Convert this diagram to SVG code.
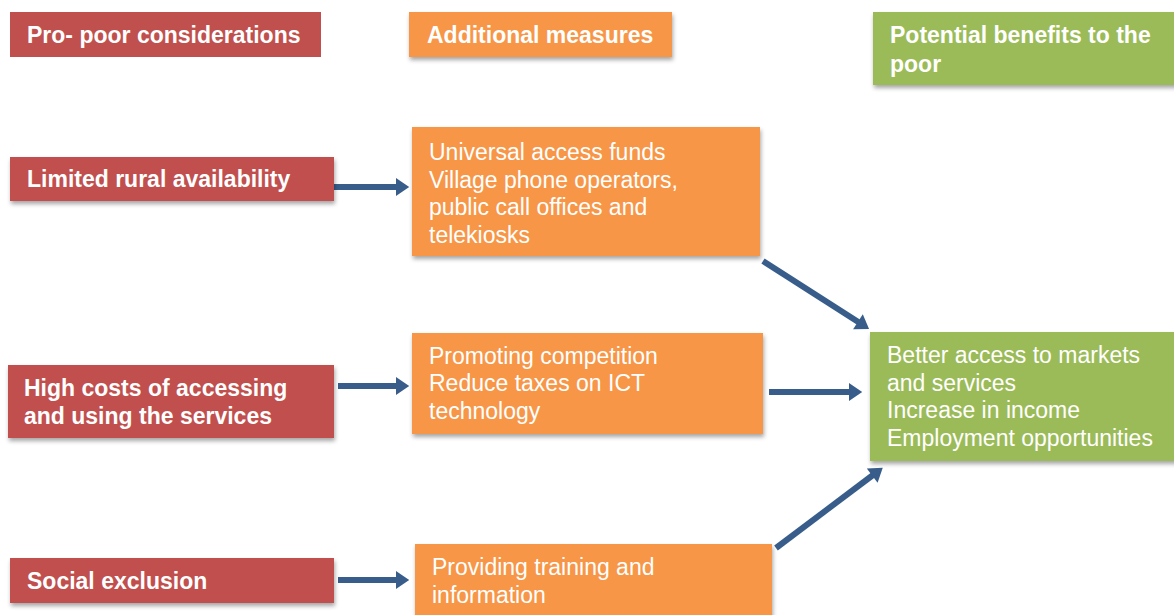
<svg xmlns="http://www.w3.org/2000/svg" width="1174" height="615" viewBox="0 0 1174 615">
<style>
.red{fill:#C0504D}
.org{fill:#F79646}
.grn{fill:#9BBB59}
.b{font-family:"Liberation Sans",Arial,sans-serif;font-weight:bold;font-size:23px;fill:#fff}
.t{font-family:"Liberation Sans",Arial,sans-serif;font-size:23px;fill:#fff}
.c{stroke:#385D8A;stroke-width:6;fill:none;marker-end:url(#ah)}
</style>
<defs>
<filter id="sh" x="-10%" y="-10%" width="130%" height="140%">
<feDropShadow dx="1" dy="3" stdDeviation="2" flood-color="#000" flood-opacity="0.35"/>
</filter>
<marker id="ah" markerWidth="3" markerHeight="3" refX="1" refY="1.5" orient="auto" markerUnits="strokeWidth" viewBox="0 0 2.2 3">
<path d="M0,0 L2.2,1.5 L0,3 Z" fill="#385D8A"/>
</marker>
</defs>
<rect width="1174" height="615" fill="#fff"/>
<g id="connectors">
<line class="c" x1="334" y1="187" x2="402" y2="187"/>
<line class="c" x1="338" y1="386" x2="402" y2="386"/>
<line class="c" x1="338" y1="580" x2="402" y2="580"/>
<line class="c" x1="769" y1="392" x2="855" y2="392"/>
<line class="c" x1="763" y1="261" x2="863" y2="325"/>
<line class="c" x1="776" y1="548" x2="877" y2="472"/>
</g>
<g id="h1"><rect class="red" x="10" y="12" width="311" height="45"/><text class="b" x="27" y="43">Pro- poor considerations</text></g>
<g id="h2"><rect class="org" x="409" y="12" width="263" height="45" filter="url(#sh)"/><text class="b" x="427" y="43">Additional measures</text></g>
<g id="h3"><rect class="grn" x="873" y="12" width="310" height="73" filter="url(#sh)"/><text class="b" x="890" y="43">Potential benefits to the</text><text class="b" x="890" y="72">poor</text></g>
<g id="l1"><rect class="red" x="10" y="157" width="324" height="44" filter="url(#sh)"/><text class="b" x="27" y="187">Limited rural availability</text></g>
<g id="l2"><rect class="red" x="8" y="365" width="326" height="73" filter="url(#sh)"/><text class="b" x="24" y="396">High costs of accessing</text><text class="b" x="24" y="424">and using the services</text></g>
<g id="l3"><rect class="red" x="10" y="558" width="324" height="45" filter="url(#sh)"/><text class="b" x="27" y="589">Social exclusion</text></g>
<g id="m1"><rect class="org" x="412" y="127" width="348" height="129" filter="url(#sh)"/>
<text class="t" x="429" y="160">Universal access funds</text><text class="t" x="429" y="188">Village phone operators,</text><text class="t" x="429" y="215">public call offices and</text><text class="t" x="429" y="243">telekiosks</text></g>
<g id="m2"><rect class="org" x="412" y="333" width="351" height="101" filter="url(#sh)"/>
<text class="t" x="429" y="364">Promoting competition</text><text class="t" x="429" y="391">Reduce taxes on ICT</text><text class="t" x="429" y="419">technology</text></g>
<g id="m3"><rect class="org" x="415" y="544" width="357" height="80" filter="url(#sh)"/>
<text class="t" x="432" y="575">Providing training and</text><text class="t" x="432" y="603">information</text></g>
<g id="r1"><rect class="grn" x="870" y="332" width="310" height="129" filter="url(#sh)"/>
<text class="t" x="887" y="363">Better access to markets</text><text class="t" x="887" y="391">and services</text><text class="t" x="887" y="418">Increase in income</text><text class="t" x="887" y="446">Employment opportunities</text></g>
</svg>
